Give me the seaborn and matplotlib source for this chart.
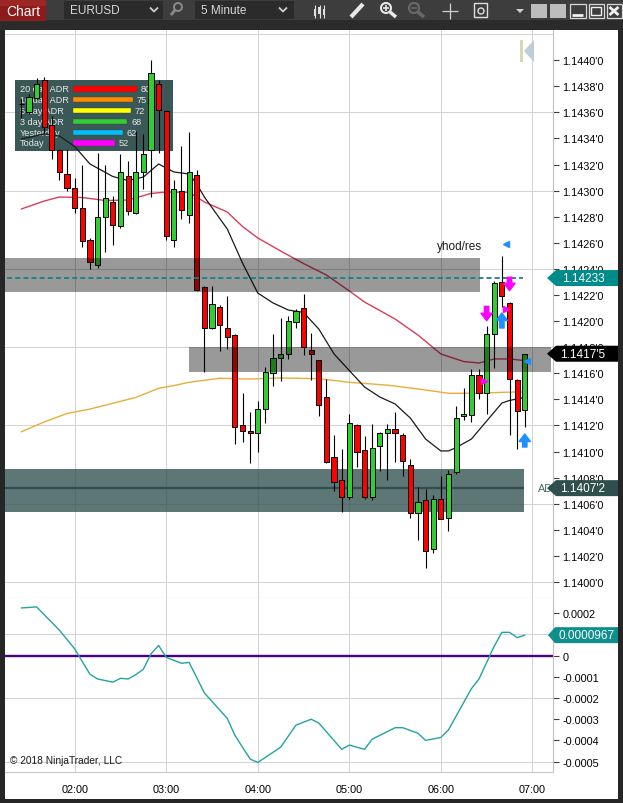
import numpy as np
import matplotlib
matplotlib.use('Agg')
import matplotlib.pyplot as plt
from matplotlib.patches import Rectangle, Polygon, Ellipse
from matplotlib.lines import Line2D
import seaborn as sns

W, H = 623, 804

# ---- candles, 5 minute bars from 01:25 to 06:55 (index 0..66) ----
bar_open = [1.14366, 1.14360, 1.14371, 1.14385, 1.14350, 1.14331, 1.14313, 1.14302, 1.14287, 1.14262,
            1.14243, 1.14280, 1.14291, 1.14273, 1.14311, 1.14283, 1.14314, 1.14331, 1.14382, 1.14361,
            1.14262, 1.14300, 1.14281, 1.14312, 1.14226, 1.14195, 1.14211, 1.14195, 1.14189, 1.14120,
            1.14116, 1.14114, 1.14133, 1.14160, 1.14172, 1.14175, 1.14199, 1.14210, 1.14178, 1.14170,
            1.14142, 1.14096, 1.14078, 1.14065, 1.14120, 1.14101, 1.14065, 1.14104, 1.14114, 1.14117,
            1.14113, 1.14090, 1.14053, 1.14063, 1.14025, 1.14064, 1.14049, 1.14084, 1.14127, 1.14128,
            1.14159, 1.14145, 1.14190, 1.14230, 1.14214, 1.14155, 1.14132]
bar_high = [1.14370, 1.14374, 1.14386, 1.14387, 1.14357, 1.14332, 1.14332, 1.14310, 1.14320, 1.14264,
            1.14329, 1.14320, 1.14296, 1.14328, 1.14323, 1.14346, 1.14343, 1.14400, 1.14385, 1.14362,
            1.14308, 1.14334, 1.14345, 1.14316, 1.14227, 1.14227, 1.14212, 1.14219, 1.14190, 1.14145,
            1.14130, 1.14139, 1.14165, 1.14190, 1.14202, 1.14204, 1.14209, 1.14221, 1.14191, 1.14170,
            1.14156, 1.14113, 1.14102, 1.14129, 1.14121, 1.14112, 1.14121, 1.14115, 1.14121, 1.14130,
            1.14114, 1.14094, 1.14073, 1.14071, 1.14067, 1.14081, 1.14086, 1.14135, 1.14149, 1.14163,
            1.14163, 1.14196, 1.14231, 1.14250, 1.14215, 1.14156, 1.14175]
bar_low = [1.14356, 1.14359, 1.14370, 1.14344, 1.14324, 1.14308, 1.14300, 1.14283, 1.14257, 1.14240,
           1.14241, 1.14253, 1.14258, 1.14271, 1.14281, 1.14282, 1.14301, 1.14295, 1.14329, 1.14262,
           1.14257, 1.14278, 1.14275, 1.14223, 1.14161, 1.14194, 1.14177, 1.14179, 1.14106, 1.14107,
           1.14091, 1.14100, 1.14122, 1.14150, 1.14154, 1.14171, 1.14195, 1.14174, 1.14155, 1.14127,
           1.14091, 1.14070, 1.14054, 1.14064, 1.14088, 1.14064, 1.14063, 1.14085, 1.14078, 1.14092,
           1.14081, 1.14049, 1.14032, 1.14011, 1.14022, 1.14048, 1.14039, 1.14083, 1.14124, 1.14123,
           1.14140, 1.14129, 1.14164, 1.14211, 1.14113, 1.14102, 1.14119]
bar_close = [1.14366, 1.14372, 1.14382, 1.14349, 1.14331, 1.14314, 1.14302, 1.14287, 1.14261, 1.14245,
             1.14280, 1.14294, 1.14274, 1.14314, 1.14284, 1.14314, 1.14328, 1.14390, 1.14362, 1.14265,
             1.14301, 1.14285, 1.14314, 1.14224, 1.14195, 1.14213, 1.14197, 1.14188, 1.14119, 1.14116,
             1.14114, 1.14133, 1.14161, 1.14172, 1.14175, 1.14200, 1.14208, 1.14180, 1.14175, 1.14136,
             1.14092, 1.14077, 1.14065, 1.14122, 1.14100, 1.14065, 1.14103, 1.14114, 1.14117, 1.14114,
             1.14093, 1.14053, 1.14061, 1.14024, 1.14064, 1.14048, 1.14083, 1.14126, 1.14129, 1.14159,
             1.14145, 1.14190, 1.14229, 1.14219, 1.14156, 1.14131, 1.14175]

# ---- moving averages (read at selected bars) ----
black_idx = [0, 3, 5, 7, 9, 12, 14, 16, 18, 19, 20, 22, 23, 24, 27, 29, 31, 33, 35, 37, 39, 41, 43, 45,
             47, 49, 51, 53, 55, 56, 57, 59, 61, 63, 64, 66]
black_val = [1.143395, 1.143434, 1.143418, 1.143338, 1.143204, 1.143108, 1.143077, 1.143104, 1.143204,
             1.143173, 1.143143, 1.143127, 1.143051, 1.142951, 1.142706, 1.142445, 1.142215, 1.142139,
             1.142085, 1.142066, 1.141939, 1.141748, 1.141621, 1.141495, 1.141418, 1.141365, 1.141257,
             1.141096, 1.141005, 1.141005, 1.141031, 1.141096, 1.141234, 1.141372, 1.141392, 1.141415]
crimson_idx = [0, 3, 5, 8, 11, 14, 17, 19, 22, 24, 27, 29, 31, 34, 37, 40, 43, 45, 49, 52, 55, 58, 60,
               62, 64, 66]
crimson_val = [1.142859, 1.142920, 1.142951, 1.142947, 1.142924, 1.142928, 1.142978, 1.142989, 1.142987,
               1.142913, 1.142836, 1.142725, 1.142637, 1.142537, 1.142441, 1.142353, 1.142231, 1.142146,
               1.142016, 1.141893, 1.141748, 1.141690, 1.141679, 1.141710, 1.141710, 1.141697]
orange_idx = [0, 3, 6, 9, 12, 15, 18, 20, 22, 26, 30, 34, 39, 43, 48, 52, 56, 60, 63, 66]
orange_val = [1.141152, 1.141227, 1.141292, 1.141326, 1.141370, 1.141415, 1.141485, 1.141506, 1.141531,
              1.141562, 1.141556, 1.141564, 1.141559, 1.141531, 1.141509, 1.141480, 1.141447, 1.141447,
              1.141454, 1.141459]

# ---- lower panel oscillator ----
osc_idx = [0, 2, 5, 7, 9, 10, 12, 13, 14, 15, 16, 17, 18, 19, 21, 22, 24, 27, 28, 30, 31, 34, 36, 38,
           39, 42, 43, 45, 46, 49, 50, 52, 53, 55, 56, 59, 60, 62, 63, 64, 65, 66]
osc_val = [0.000225, 0.00023, 0.00012, 0.000032, -0.000088, -0.00011, -0.000125, -0.000107, -0.00011,
           -0.00009, -0.000064, 0.000008, 0.000048, -0.000008, -0.000036, -0.000032, -0.000176, -0.000296,
           -0.000376, -0.000488, -0.000504, -0.000432, -0.000328, -0.0003, -0.000318, -0.000442, -0.000422,
           -0.000442, -0.000394, -0.00034, -0.00034, -0.000366, -0.0004, -0.000386, -0.00035, -0.000156,
           -0.00011, 0.000045, 0.00011, 0.00011, 0.000085, 0.0000967]

# ---- zones ----
zone_start = [-3, 22.0, -3]
zone_end = [60.1, 69.4, 65.9]
zone_top = [1.14248, 1.14180, 1.14087]
zone_bottom = [1.14222, 1.14161, 1.14054]
zone_line = 1.14233
adr_line = 1.14072
last_price = 1.14175
osc_last = 0.0000967

# ---- ADR overlay ----
adr_labels = ['20 day ADR', '10 day ADR', '5 day ADR', '3 day ADR', 'Yesterday', 'Today']
adr_values = [80, 75, 72, 68, 62, 52]
adr_colors = ['#ff0000', '#ff8c00', '#ffff00', '#32cd32', '#00bfff', '#ff00ff']

# ---- signal arrows (bar index, tail price, tip price) ----
down_arrows = [(61, 1.142113, 1.142003), (64, 1.142336, 1.142233)]
up_arrows = [(63, 1.141947, 1.142062), (66, 1.141035, 1.141135)]
right_marks = [(60.7, 1.141541), (63.5, 1.142093)]
left_marks = [(66.3, 1.141697), (63.6, 1.142591)]

hour_ticks = [7, 19, 31, 43, 55, 67]
hour_labels = ['02:00', '03:00', '04:00', '05:00', '06:00', '07:00']
price_ticks = [1.1400, 1.1402, 1.1404, 1.1406, 1.1408, 1.1410, 1.1412, 1.1414, 1.1416, 1.1418, 1.1420,
               1.1422, 1.1424, 1.1426, 1.1428, 1.1430, 1.1432, 1.1434, 1.1436, 1.1438, 1.1440]
price_grid = [1.1400, 1.1406, 1.1412, 1.1418, 1.1424, 1.1430, 1.1436, 1.1442]
osc_ticks = [0.0002, 0.0, -0.0001, -0.0002, -0.0003, -0.0004, -0.0005]
osc_tick_labels = ['0.0002', '0', '-0.0001', '-0.0002', '-0.0003', '-0.0004', '-0.0005']
osc_grid = [0.0001, -0.0002, -0.0005]

sns.set_style('white')
plt.rcParams['font.family'] = ['Liberation Sans', 'DejaVu Sans']

fig = plt.figure(figsize=(W / 100, H / 100), dpi=100, facecolor='#262626')


def prect(x0, y0, x1, y1, fc, ec='none', lw=0, z=5):
    fig.add_artist(Rectangle((x0 / W, 1 - y1 / H), (x1 - x0) / W, (y1 - y0) / H,
                             transform=fig.transFigure, facecolor=fc, edgecolor=ec,
                             linewidth=lw, zorder=z))


def pline(xs, ys, color, lw, z=6):
    fig.add_artist(Line2D([x / W for x in xs], [1 - y / H for y in ys], transform=fig.transFigure,
                          color=color, linewidth=lw, zorder=z, solid_capstyle='butt'))


def ppoly(pts, fc, z=6):
    fig.add_artist(Polygon([(x / W, 1 - y / H) for x, y in pts], closed=True, transform=fig.transFigure,
                           facecolor=fc, edgecolor='none', zorder=z))


def pcircle(x, y, r, ec, lw, z=6):
    fig.add_artist(Ellipse((x / W, 1 - y / H), 2 * r / W, 2 * r / H, transform=fig.transFigure,
                           facecolor='none', edgecolor=ec, linewidth=lw, zorder=z))


# white chart area
prect(5, 31, 618, 800, 'white', z=-1)

ax = fig.add_axes([5 / W, 1 - 599 / H, 548 / W, 568 / H])
ax2 = fig.add_axes([5 / W, 1 - 773 / H, 548 / W, 174 / H])

XMIN, XMAX = -2.137, 69.70
idx = np.arange(len(bar_open))
o = np.array(bar_open)
c = np.array(bar_close)
body_col = np.where(c > o, '#32cd32', np.where(c < o, '#ff0000', 'black'))

# grid
for g in price_grid:
    ax.axhline(g, color='#d3d3d3', lw=0.75, zorder=0.5)
for hx in hour_ticks:
    ax.axvline(hx, color='#d3d3d3', lw=0.75, zorder=0.5)
    ax2.axvline(hx, color='#d3d3d3', lw=0.75, zorder=0.5)
for g in osc_grid:
    ax2.axhline(g, color='#d3d3d3', lw=0.75, zorder=0.5)


def ax_px(x, y):
    return ((x - 5) / 548, (599 - y) / 568)


# lower (ADR) zone under the bars
ax.add_patch(Rectangle((zone_start[2], zone_bottom[2]), zone_end[2] - zone_start[2],
                       zone_top[2] - zone_bottom[2], facecolor='#2f4f4f', alpha=0.78, lw=0, zorder=1))
ax.hlines(adr_line, zone_start[2], zone_end[2], colors='#2f4f4f', lw=1.6, zorder=1.2)

# ADR overlay box
ax.add_patch(Rectangle(ax_px(15, 152), 158 / 548, 71 / 568, transform=ax.transAxes,
                       facecolor='#2f4f4f', alpha=0.95, lw=0, zorder=1.5))
for k, (lab, val, col) in enumerate(zip(adr_labels, adr_values, adr_colors)):
    yc = 90 + 10.8 * k
    ax.text(*ax_px(20, yc), lab, transform=ax.transAxes, fontsize=6.6, color='#e6e6e6',
            va='center', ha='left', zorder=1.7)
    ax.add_patch(Rectangle(ax_px(73, yc + 2.6), 0.8 * val / 548, 5.2 / 568, transform=ax.transAxes,
                           facecolor=col, edgecolor='#444444', lw=0.3, zorder=1.6))
    ax.text(*ax_px(73 + 0.8 * val + 4, yc), str(val), transform=ax.transAxes, fontsize=6.6,
            color='#e6e6e6', va='center', ha='left', zorder=1.7)

# moving averages
sns.lineplot(x=orange_idx, y=orange_val, ax=ax, color='#e9ad3c', lw=1.0, zorder=2)
sns.lineplot(x=crimson_idx, y=crimson_val, ax=ax, color='#dc3c5a', lw=1.0, zorder=2)
sns.lineplot(x=black_idx, y=black_val, ax=ax, color='#1a1a1a', lw=0.9, zorder=2)

# candles
ax.vlines(idx, bar_low, bar_high, colors='black', lw=0.8, zorder=3)
ax.bar(idx, c - o, bottom=o, width=0.68, color=body_col, edgecolor='black', linewidth=0.7, zorder=3.1)

# grey supply / demand zones on top
for k in range(2):
    ax.add_patch(Rectangle((zone_start[k], zone_bottom[k]), zone_end[k] - zone_start[k],
                           zone_top[k] - zone_bottom[k], facecolor='black', alpha=0.4, lw=0, zorder=4))
ax.hlines(zone_line, -3, 65.8, colors='#1a7f7f', linestyles=(0, (2.8, 1.7)), lw=1.3, zorder=5)
ax.text(67.7, adr_line, 'AD', fontsize=7.8, color='#4a6a6a', va='center', ha='left', zorder=5)

# signals
for i, p0, p1 in down_arrows:
    ax.annotate('', xy=(i, p1), xytext=(i, p0),
                arrowprops=dict(arrowstyle='simple,head_width=0.9,head_length=0.6,tail_width=0.35',
                                color='#ff00ff', shrinkA=0, shrinkB=0, mutation_scale=9), zorder=6)
for i, p0, p1 in up_arrows:
    ax.annotate('', xy=(i, p1), xytext=(i, p0),
                arrowprops=dict(arrowstyle='simple,head_width=0.9,head_length=0.6,tail_width=0.35',
                                color='#1e90ff', shrinkA=0, shrinkB=0, mutation_scale=9), zorder=6)
for i, p in right_marks:
    ax.plot(i, p, marker='>', color='#ff00ff', markersize=5, zorder=6)
for i, p in left_marks:
    ax.plot(i, p, marker='<', color='#1e90ff', markersize=5, zorder=6)
ax.text(54.5, 1.142578, 'yhod/res', fontsize=8.5, color='#1a1a1a', va='center', ha='left', zorder=6)

ax.set_xlim(XMIN, XMAX)
ax.set_ylim(1.1398781, 1.1442307)
ax.yaxis.tick_right()
ax.set_yticks(price_ticks)
ax.set_yticklabels([f"{v:.4f}'0" for v in price_ticks])
ax.tick_params(axis='y', length=4.3, width=0.8, pad=2.6, labelsize=7.8, color='#404040',
               labelcolor='black', right=True, left=False)
ax.set_xticks(hour_ticks)
ax.tick_params(axis='x', length=0, labelbottom=False)
ax.set_xlabel('')
ax.set_ylabel('')
for s in ['top', 'left']:
    ax.spines[s].set_visible(False)
ax.spines['right'].set_color('#c0c0c0')
ax.spines['bottom'].set_color('#c8c8c8')
ax.spines['right'].set_linewidth(0.8)
ax.spines['bottom'].set_linewidth(0.8)

# lower panel
ax2.axhline(0, color='#4b0082', lw=1.7, zorder=1)
sns.lineplot(x=osc_idx, y=osc_val, ax=ax2, color='#22a3a3', lw=1.0, zorder=2)
ax2.set_xlim(XMIN, XMAX)
ax2.set_ylim(-0.000549, 0.000272)
ax2.yaxis.tick_right()
ax2.set_yticks(osc_ticks)
ax2.set_yticklabels(osc_tick_labels)
ax2.tick_params(axis='y', length=4.3, width=0.8, pad=2.6, labelsize=7.8, color='#404040',
                labelcolor='black', right=True, left=False)
ax2.set_xticks(hour_ticks)
ax2.set_xticklabels(hour_labels)
ax2.tick_params(axis='x', length=0, pad=9, labelsize=7.8, labelcolor='black')
ax2.set_xlabel('')
ax2.set_ylabel('')
for s in ['top', 'left']:
    ax2.spines[s].set_visible(False)
ax2.spines['right'].set_color('#c0c0c0')
ax2.spines['bottom'].set_color('#c8c8c8')
ax2.spines['right'].set_linewidth(0.8)
ax2.spines['bottom'].set_linewidth(0.8)


def tag(axis, value, text, color, tip=547, body=556, tx=583):
    yd = axis.transData.transform((0, value))[1]
    yt = H - yd
    ppoly([(tip, yt), (body, yt - 8), (618, yt - 8), (618, yt + 8), (body, yt + 8)], color, z=10)
    fig.text(tx / W, 1 - yt / H, text, color='white', fontsize=8.5, ha='center', va='center', zorder=11)


tag(ax, zone_line, '1.14233', '#008b8b')
tag(ax, last_price, "1.1417'5", '#000000')
tag(ax, adr_line, "1.1407'2", '#2f4f4f')
tag(ax2, osc_last, '0.0000967', '#0f8f8c', tip=548, body=555, tx=587)

fig.text(10 / W, 1 - 760.7 / H, '\u00a9 2018 NinjaTrader, LLC', fontsize=7.3, color='#1a1a1a',
         va='center', ha='left', zorder=11)

# scroll to end icon
prect(520, 41, 523, 63, '#d6d8b8', z=8)
ppoly([(534, 41), (534, 63), (524, 52)], '#bccfd6', z=8)

# ---- toolbar ----
prect(0, 0, 623, 21, '#3d3d3d', z=5)
prect(0, 21, 623, 31, '#2b2b2b', z=5)
prect(0, 0, 46, 22, '#8e1b1b', z=6)
prect(0, 0, 46, 7, '#9c2626', z=6)
fig.text(23 / W, 1 - 11.5 / H, 'Chart', fontsize=10, color='white', ha='center', va='center', zorder=7)
prect(64, 2, 163, 20, '#2b2b2b', z=6)
fig.text(70 / W, 1 - 11 / H, 'EURUSD', fontsize=8.5, color='#d8d8d8', ha='left', va='center', zorder=7)
pline([150, 154, 158], [8.5, 12.5, 8.5], '#cfcfcf', 1.3)
pcircle(178, 8, 4, '#8a8a8a', 1.4)
pline([175, 171], [11, 16], '#8a8a8a', 2)
prect(195, 2, 294, 20, '#2b2b2b', z=6)
fig.text(201 / W, 1 - 11 / H, '5 Minute', fontsize=8.5, color='#d8d8d8', ha='left', va='center', zorder=7)
pline([279, 283, 287], [8.5, 12.5, 8.5], '#cfcfcf', 1.3)
for cx, b0, b1 in [(315, 10, 17), (319.5, 8, 15), (324, 10, 16)]:
    pline([cx, cx], [6, 19], '#e0e0e0', 0.8, z=7)
    prect(cx - 1.3, b0, cx + 1.3, b1, '#e0e0e0', z=7)
pline([351, 363], [18, 5], '#e8e8e8', 3)
pcircle(386, 9, 5, '#e8e8e8', 1.5)
pline([383, 389], [9, 9], '#e8e8e8', 1.2)
pline([386, 386], [6, 12], '#e8e8e8', 1.2)
pline([390, 396], [13, 18], '#e8e8e8', 2.5)
pcircle(414, 9, 5, '#6a6a6a', 1.5)
pline([411, 417], [9, 9], '#6a6a6a', 1.2)
pline([418, 424], [13, 18], '#6a6a6a', 2.5)
pline([442, 458], [12, 12], '#d0d0d0', 0.9)
pline([450, 450], [4, 20], '#d0d0d0', 0.9)
prect(474, 4, 487, 18, 'none', ec='#e0e0e0', lw=1.0, z=7)
pcircle(481, 12, 3, '#e0e0e0', 1.0, z=8)
ppoly([(516, 10), (524, 10), (520, 14)], '#d0d0d0')
prect(531, 5, 547, 19, '#bdbdbd', z=6)
prect(550, 5, 566, 19, '#bdbdbd', z=6)
prect(569.5, 5, 586, 19, '#3d3d3d', ec='#d8d8d8', lw=0.9, z=6)
pline([572, 583], [16, 16], '#f0f0f0', 2)
prect(588.5, 5, 604, 19, '#3d3d3d', ec='#d8d8d8', lw=0.9, z=6)
prect(591, 8, 601, 16, 'none', ec='#f0f0f0', lw=1.0, z=7)
prect(606.5, 5, 622, 19, '#3d3d3d', ec='#d8d8d8', lw=0.9, z=6)
pline([609.5, 618.5], [8, 16], '#f0f0f0', 2)
pline([609.5, 618.5], [16, 8], '#f0f0f0', 2)

fig.savefig('out.png', dpi=100, facecolor=fig.get_facecolor())
